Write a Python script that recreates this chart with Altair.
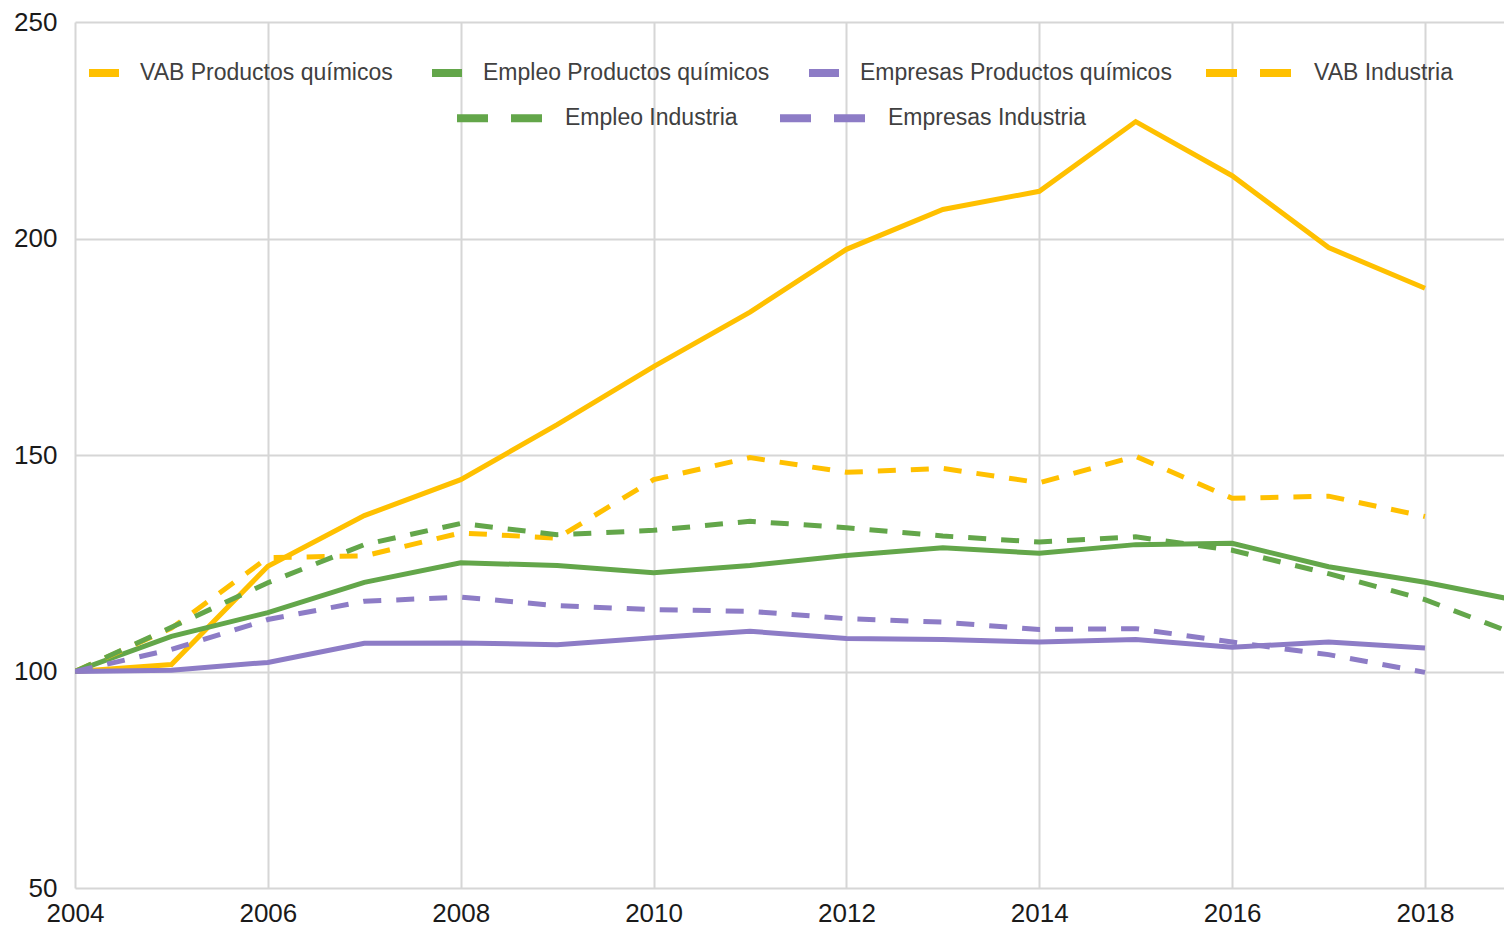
import altair as alt
import pandas as pd

# ---- data (index numbers, 2004 = 100) ----
years = [2004, 2005, 2006, 2007, 2008, 2009, 2010, 2011, 2012, 2013, 2014, 2015, 2016, 2017, 2018, 2019]

vab_pq = [100, 101.6, 124.3, 136.0, 144.3, 157.0, 170.4, 183.0, 197.5, 206.7, 210.9, 227.0, 214.5, 197.9, 188.5]
empleo_pq = [100, 108.1, 113.6, 120.6, 125.1, 124.5, 122.8, 124.5, 126.8, 128.6, 127.3, 129.3, 129.6, 124.2, 120.6, 116.2]
empresas_pq = [100, 100.3, 102.1, 106.5, 106.6, 106.2, 107.8, 109.3, 107.6, 107.4, 106.8, 107.4, 105.6, 106.8, 105.4]
vab_ind = [100, 110.0, 126.3, 126.7, 132.0, 130.8, 144.3, 149.4, 146.0, 146.9, 143.6, 149.7, 140.0, 140.5, 135.8]
empleo_ind = [100, 110.2, 120.5, 129.3, 134.2, 131.6, 132.6, 134.7, 133.2, 131.3, 129.9, 131.1, 128.0, 122.6, 116.6, 108.1]
empresas_ind = [100, 105.1, 112.0, 116.2, 117.2, 115.2, 114.3, 113.9, 112.2, 111.4, 109.7, 109.9, 106.8, 103.9, 99.8]

names_solid = ["VAB Productos químicos", "Empleo Productos químicos", "Empresas Productos químicos"]
names_vab_ind = ["VAB Industria"]
names_dash = ["Empleo Industria", "Empresas Industria"]

x_ticks = [2004, 2006, 2008, 2010, 2012, 2014, 2016, 2018]
y_ticks = [50, 100, 150, 200, 250]

YELLOW = "#FFC000"
GREEN = "#63A64A"
PURPLE = "#8D7CC6"
FONT = "Liberation Sans, Arial, sans-serif"


def long_df(names, arrays):
    rows = []
    for n, arr in zip(names, arrays):
        for yr, v in zip(years, arr):
            rows.append({"serie": n, "year": yr, "value": v})
    return pd.DataFrame(rows)


df_solid = long_df(names_solid, [vab_pq, empleo_pq, empresas_pq])
df_vab_ind = long_df(names_vab_ind, [vab_ind])
df_dash = long_df(names_dash, [empleo_ind, empresas_ind])

W = 1429
PX_PER_YEAR = (1425 - 75) / 14.0
XMAX = 2004 + W / PX_PER_YEAR

x_enc = alt.X(
    "year:Q",
    scale=alt.Scale(domain=[2004, XMAX], nice=False, zero=False),
    axis=alt.Axis(values=x_ticks, format="d", title=None, labelPadding=12,
                  labelFlush=False, labelOverlap=False),
)
y_enc = alt.Y(
    "value:Q",
    scale=alt.Scale(domain=[50, 250], nice=False, zero=False),
    axis=alt.Axis(values=y_ticks, title=None, labelPadding=18),
)


def legend(x, y, size, dash=None, cols=1, colpad=40, offset=19):
    kw = dict(
        orient="none", legendX=x, legendY=y, direction="horizontal", columns=cols,
        title=None, symbolType="stroke", symbolSize=size, symbolStrokeWidth=8,
        labelFontSize=23, labelFont=FONT, labelColor="#404040", labelLimit=0,
        columnPadding=colpad, labelOffset=offset, padding=0, symbolOpacity=1,
    )
    if dash is not None:
        kw["symbolDash"] = dash
    return alt.Legend(**kw)


solid = alt.Chart(df_solid).mark_line(strokeWidth=5, clip=True).encode(
    x=x_enc, y=y_enc,
    color=alt.Color("serie:N", sort=names_solid,
                    scale=alt.Scale(domain=names_solid, range=[YELLOW, GREEN, PURPLE]),
                    legend=legend(10, 32, 900, cols=3, colpad=23, offset=17)),
    detail="serie:N",
)

vabind = alt.Chart(df_vab_ind).mark_line(strokeWidth=5, strokeDash=[18, 15], clip=True).encode(
    x=x_enc, y=y_enc,
    color=alt.Color("serie:N",
                    scale=alt.Scale(domain=names_vab_ind, range=[YELLOW]),
                    legend=legend(1127, 4.5, 85 * 85, dash=[31, 23], cols=1)),
)

dashed = alt.Chart(df_dash).mark_line(strokeWidth=5, strokeDash=[18, 15], clip=True).encode(
    x=x_enc, y=y_enc,
    color=alt.Color("serie:N", sort=names_dash,
                    scale=alt.Scale(domain=names_dash, range=[GREEN, PURPLE]),
                    legend=legend(378, 49.5, 85 * 85, dash=[31, 23], cols=2, colpad=26)),
    detail="serie:N",
)

chart = (
    alt.layer(solid, vabind, dashed)
    .resolve_scale(color="independent")
    .resolve_legend(color="independent")
    .properties(
        width=W, height=866,
        autosize=alt.AutoSizeParams(type="none"),
        padding={"left": 67, "top": 14, "right": 0, "bottom": 38},
    )
    .configure_view(stroke=None)
    .configure_axis(
        grid=True, gridColor="#d6d6d6", gridWidth=2, domain=False, ticks=False,
        labelFont=FONT, labelFontSize=26, labelColor="#1a1a1a",
    )
)

chart.save("out.html", embed_options={"renderer": "svg", "actions": False})
